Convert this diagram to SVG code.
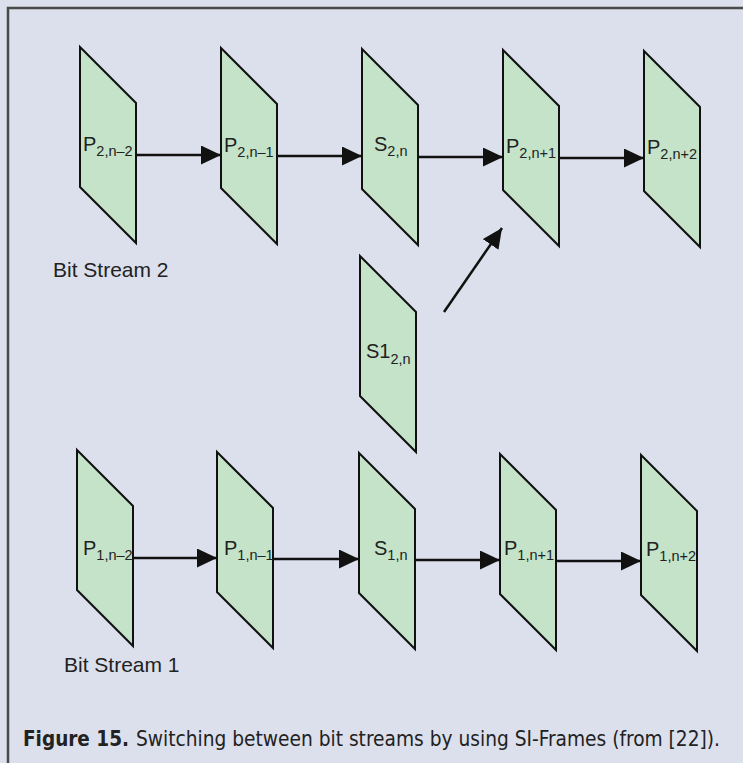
<svg xmlns="http://www.w3.org/2000/svg" width="743" height="763" viewBox="0 0 743 763">
  <style>
    .frame { fill: none; stroke: #4a4a4a; stroke-width: 2.5; }
    .frame-shape { fill: #c4e3c9; stroke: #111; stroke-width: 2; stroke-linejoin: miter; }
    .lbl { font-family: "Liberation Sans", Arial, sans-serif; font-size: 20px; fill: #222; }
    .sub { font-size: 14.5px; }
    .stream { font-family: "Liberation Sans", Arial, sans-serif; font-size: 21px; fill: #222; }
    .link { stroke: #111; stroke-width: 2.5; fill: none; }
    .cap { font-family: "Liberation Sans Narrow", "DejaVu Sans Condensed", "Liberation Sans", sans-serif; font-size: 21px; fill: #222; }
    .capb { font-weight: bold; }
  </style>
  <defs>
    <!-- one picture frame, drawn as a slanted parallelogram -->
    <polygon id="pframe" points="0,0 56,56 56,196 0,140"/>
    <marker id="head" markerUnits="userSpaceOnUse" markerWidth="22" markerHeight="20" refX="20" refY="9.5" orient="auto">
      <path d="M0,0 L20,9.5 L0,19 Z" fill="#111"/>
    </marker>
  </defs>

  <rect x="0" y="0" width="743" height="763" fill="#dce0ec"/>
  <path class="frame" d="M8,763 L8,8 L743,8"/>

  <!-- bit stream 2 -->
  <g id="p2_nm2">
    <use href="#pframe" class="frame-shape" x="80" y="47"/>
    <text class="lbl" x="83" y="151">P<tspan class="sub" dy="5">2,n–2</tspan></text>
  </g>
  <g id="p2_nm1">
    <use href="#pframe" class="frame-shape" x="221" y="48"/>
    <text class="lbl" x="224" y="152">P<tspan class="sub" dy="5">2,n–1</tspan></text>
  </g>
  <g id="s2_n">
    <use href="#pframe" class="frame-shape" x="362" y="49"/>
    <text class="lbl" x="374" y="151">S<tspan class="sub" dy="5">2,n</tspan></text>
  </g>
  <g id="p2_np1">
    <use href="#pframe" class="frame-shape" x="503" y="50"/>
    <text class="lbl" x="506" y="153">P<tspan class="sub" dy="5">2,n+1</tspan></text>
  </g>
  <g id="p2_np2">
    <use href="#pframe" class="frame-shape" x="644" y="51"/>
    <text class="lbl" x="647" y="154">P<tspan class="sub" dy="5">2,n+2</tspan></text>
  </g>

  <!-- switching frame -->
  <g id="s12_n">
    <use href="#pframe" class="frame-shape" x="360" y="256"/>
    <text class="lbl" x="366" y="358">S1<tspan class="sub" dy="6">2,n</tspan></text>
  </g>

  <!-- bit stream 1 -->
  <g id="p1_nm2">
    <use href="#pframe" class="frame-shape" x="77" y="450"/>
    <text class="lbl" x="83" y="555">P<tspan class="sub" dy="5">1,n–2</tspan></text>
  </g>
  <g id="p1_nm1">
    <use href="#pframe" class="frame-shape" x="217" y="452"/>
    <text class="lbl" x="224" y="555">P<tspan class="sub" dy="5">1,n–1</tspan></text>
  </g>
  <g id="s1_n">
    <use href="#pframe" class="frame-shape" x="359" y="453"/>
    <text class="lbl" x="374" y="555">S<tspan class="sub" dy="5">1,n</tspan></text>
  </g>
  <g id="p1_np1">
    <use href="#pframe" class="frame-shape" x="500" y="454"/>
    <text class="lbl" x="504" y="555">P<tspan class="sub" dy="5">1,n+1</tspan></text>
  </g>
  <g id="p1_np2">
    <use href="#pframe" class="frame-shape" x="641" y="455"/>
    <text class="lbl" x="646" y="556">P<tspan class="sub" dy="5">1,n+2</tspan></text>
  </g>

  <g id="connectors">
    <line class="link" x1="136" y1="155" x2="221" y2="155" marker-end="url(#head)"/>
    <line class="link" x1="277" y1="156" x2="362" y2="156" marker-end="url(#head)"/>
    <line class="link" x1="418" y1="157" x2="503" y2="157" marker-end="url(#head)"/>
    <line class="link" x1="559" y1="158" x2="644" y2="158" marker-end="url(#head)"/>
    <line class="link" x1="444" y1="312" x2="502" y2="228" marker-end="url(#head)"/>
    <line class="link" x1="133" y1="558" x2="217" y2="558" marker-end="url(#head)"/>
    <line class="link" x1="273" y1="559" x2="359" y2="559" marker-end="url(#head)"/>
    <line class="link" x1="415" y1="560" x2="500" y2="560" marker-end="url(#head)"/>
    <line class="link" x1="556" y1="561" x2="641" y2="561" marker-end="url(#head)"/>
  </g>

  <text class="stream" x="53" y="277">Bit Stream 2</text>
  <text class="stream" x="64" y="672">Bit Stream 1</text>

  <text class="cap capb" x="23" y="746" textLength="106" lengthAdjust="spacingAndGlyphs">Figure 15.</text>
  <text class="cap" x="136" y="746" textLength="584" lengthAdjust="spacingAndGlyphs">Switching between bit streams by using SI-Frames (from [22]).</text>
</svg>
